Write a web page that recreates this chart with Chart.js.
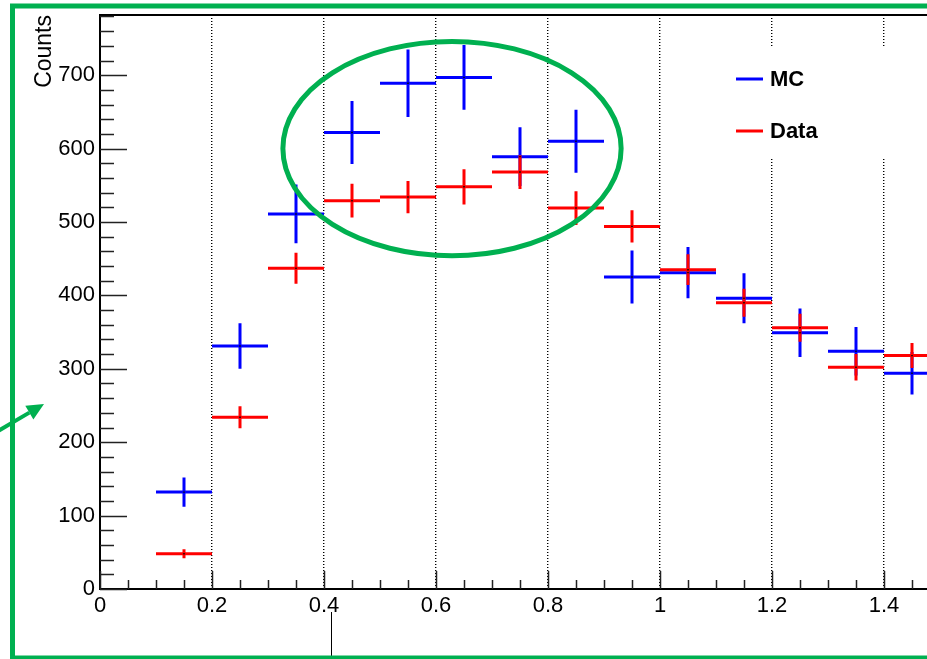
<!DOCTYPE html>
<html>
<head>
<meta charset="utf-8">
<script src="https://cdn.jsdelivr.net/npm/chart.js@4.4.1/dist/chart.umd.min.js"></script>
<style>
  html, body { margin: 0; padding: 0; background: #fff; overflow: hidden; }
  canvas { display: block; }
</style>
</head>
<body>
<canvas id="myChart" width="960" height="659"></canvas>
<script>
// histogram bins (x = bin centre, all bins 0.1 wide)
const binCenters = [0.15, 0.25, 0.35, 0.45, 0.55, 0.65, 0.75, 0.85, 0.95, 1.05, 1.15, 1.25, 1.35, 1.45];
const binWidth = 0.1;

const mcCounts = [132, 331, 511, 622, 689, 697, 589, 610, 425, 431, 396, 349, 324, 294];
const mcErrors = [20, 31, 40, 43, 46, 44, 40, 43, 36, 35, 34, 33, 33, 29];

const dataCounts = [48, 234, 437, 529, 534, 548, 568, 519, 494, 435, 390, 356, 302, 318];
const dataErrors = [6, 15, 21, 23, 22, 24, 23, 23, 22, 21, 19, 19, 18, 17];

const xTickValues = [0, 0.2, 0.4, 0.6, 0.8, 1, 1.2, 1.4];
const xTickLabels = ['0', '0.2', '0.4', '0.6', '0.8', '1', '1.2', '1.4'];
const yTickValues = [0, 100, 200, 300, 400, 500, 600, 700];
const yTickLabels = ['0', '100', '200', '300', '400', '500', '600', '700'];

const seriesNames = ['MC', 'Data'];
const seriesColors = ['#0000ff', '#ff0000'];

const FONT = '"Liberation Sans", Arial, Helvetica, sans-serif';
const GREEN = '#00b050';

// each bin becomes a horizontal bar (bin width) plus a vertical error bar
function crossPoints(counts, errors) {
  const pts = [];
  binCenters.forEach((c, i) => {
    const v = counts[i];
    const e = errors[i];
    pts.push({ x: c - binWidth / 2, y: v }, { x: c + binWidth / 2, y: v }, { x: c, y: null });
    pts.push({ x: c, y: v - e }, { x: c, y: v + e }, { x: c, y: null });
  });
  return pts;
}

function crossDataset(label, counts, errors, color, order) {
  return {
    label: label,
    data: crossPoints(counts, errors),
    showLine: true,
    spanGaps: false,
    borderColor: color,
    borderWidth: 3,
    pointRadius: 0,
    tension: 0,
    order: order,
  };
}

const centerDots = binCenters.map((c, i) => ({ x: c, y: mcCounts[i] }))
  .concat(binCenters.map((c, i) => ({ x: c, y: dataCounts[i] })));

// inward ticks, frame top, axis title, legend and the green markup
const decorPlugin = {
  id: 'decor',
  afterDatasetsDraw(chart) {
    const ctx = chart.ctx;
    const area = chart.chartArea;
    ctx.save();
    ctx.fillStyle = '#fff';
    ctx.fillRect(700, 48, area.right - 700, 111);

    ctx.font = 'bold 22px ' + FONT;
    ctx.textBaseline = 'middle';
    ctx.textAlign = 'left';
    seriesNames.forEach((name, i) => {
      const y = 79 + i * 52;
      ctx.strokeStyle = seriesColors[i];
      ctx.lineWidth = 3;
      ctx.beginPath();
      ctx.moveTo(736, y);
      ctx.lineTo(763, y);
      ctx.stroke();
      ctx.fillStyle = '#000';
      ctx.fillText(name, 770, y + 1);
    });
    ctx.restore();
  },
  afterDraw(chart) {
    const ctx = chart.ctx;
    const area = chart.chartArea;
    const xs = chart.scales.x;
    const ys = chart.scales.y;
    ctx.save();

    // top of the frame
    ctx.strokeStyle = '#000';
    ctx.lineWidth = 2;
    ctx.beginPath();
    ctx.moveTo(area.left - 1, area.top);
    ctx.lineTo(area.right, area.top);
    ctx.stroke();

    // tick marks drawn inward, ROOT style
    ctx.lineWidth = 1.5;
    ctx.strokeStyle = '#222';
    ctx.beginPath();
    for (let i = 0; i * 20 <= ys.max; i++) {
      const y = Math.round(ys.getPixelForValue(i * 20)) + 0.5;
      const len = i % 5 === 0 ? 27 : 14;
      ctx.moveTo(area.left, y);
      ctx.lineTo(area.left + len, y);
    }
    for (let i = 0; i * 0.05 <= xs.max + 1e-9; i++) {
      const x = Math.round(xs.getPixelForValue(i * 0.05)) + 0.5;
      const len = i % 4 === 0 ? 18 : 9;
      ctx.moveTo(x, area.bottom);
      ctx.lineTo(x, area.bottom - len);
    }
    ctx.stroke();

    // y axis title
    ctx.fillStyle = '#000';
    ctx.font = '23px ' + FONT;
    ctx.textAlign = 'right';
    ctx.textBaseline = 'alphabetic';
    ctx.translate(51, area.top);
    ctx.rotate(-Math.PI / 2);
    ctx.fillText('Counts', 0, 0);
    ctx.setTransform(1, 0, 0, 1, 0, 0);

    // marker line under the axis
    ctx.strokeStyle = '#000';
    ctx.lineWidth = 1;
    ctx.beginPath();
    ctx.moveTo(331.5, 612);
    ctx.lineTo(331.5, 659);
    ctx.stroke();

    // green highlight ellipse around the peak region
    const cx = xs.getPixelForValue(0.6286);
    const cy = ys.getPixelForValue(600);
    const rx = xs.getPixelForValue(0.6286 + 0.302) - cx;
    const ry = cy - ys.getPixelForValue(600 + 146);
    ctx.strokeStyle = GREEN;
    ctx.lineWidth = 5;
    ctx.beginPath();
    ctx.ellipse(cx, cy, rx, ry, 0, 0, Math.PI * 2);
    ctx.stroke();

    // green outline box
    ctx.strokeRect(12.5, 6, 960, 652);

    // green arrow from the left edge
    const tip = { x: 44, y: 404 };
    const ang = Math.atan2(404 - 431, 44 - (-2));
    const headLen = 17;
    const headHalf = 8;
    const bx = tip.x - headLen * Math.cos(ang);
    const by = tip.y - headLen * Math.sin(ang);
    ctx.lineWidth = 4;
    ctx.beginPath();
    ctx.moveTo(-2, 431);
    ctx.lineTo(bx, by);
    ctx.stroke();
    ctx.fillStyle = GREEN;
    ctx.beginPath();
    ctx.moveTo(tip.x, tip.y);
    ctx.lineTo(bx + headHalf * Math.sin(ang), by - headHalf * Math.cos(ang));
    ctx.lineTo(bx - headHalf * Math.sin(ang), by + headHalf * Math.cos(ang));
    ctx.closePath();
    ctx.fill();

    ctx.restore();
  },
};

const ctx = document.getElementById('myChart').getContext('2d');

new Chart(ctx, {
  type: 'scatter',
  data: {
    datasets: [
      {
        label: 'centres',
        data: centerDots,
        pointRadius: 1,
        pointStyle: 'rect',
        pointBackgroundColor: '#000',
        pointBorderWidth: 0,
        showLine: false,
        order: 0,
      },
      crossDataset(seriesNames[1], dataCounts, dataErrors, seriesColors[1], 1),
      crossDataset(seriesNames[0], mcCounts, mcErrors, seriesColors[0], 2),
    ],
  },
  options: {
    responsive: false,
    animation: false,
    layout: { padding: { left: 0, top: 15, right: 20, bottom: 30 } },
    plugins: {
      legend: { display: false },
      tooltip: { enabled: false },
    },
    scales: {
      x: {
        type: 'linear',
        min: 0,
        max: 1.5,
        afterBuildTicks: (s) => { s.ticks = xTickValues.map((v) => ({ value: v })); },
        afterFit: (s) => {
          s.height = 40;
          s.paddingLeft = 0;
          s.paddingRight = 0;
        },
        ticks: {
          autoSkip: false,
          maxRotation: 0,
          padding: 4,
          color: '#000',
          font: { family: FONT, size: 22 },
          callback: (v) => xTickLabels[xTickValues.indexOf(v)] ?? '',
        },
        grid: {
          color: (c) => (c.tick && c.tick.value === 0 ? 'rgba(0,0,0,0)' : '#000'),
          lineWidth: 1.4,
          drawTicks: false,
        },
        border: { color: '#000', width: 2, dash: [1, 2] },
      },
      y: {
        type: 'linear',
        min: 0,
        max: 782,
        afterBuildTicks: (s) => { s.ticks = yTickValues.map((v) => ({ value: v })); },
        afterFit: (s) => {
          s.width = 100;
          s.paddingTop = 0;
          s.paddingBottom = 0;
        },
        ticks: {
          padding: 5,
          color: '#000',
          font: { family: FONT, size: 22 },
          callback: (v) => yTickLabels[yTickValues.indexOf(v)] ?? '',
        },
        grid: { display: false, drawTicks: false },
        border: { color: '#000', width: 2 },
      },
    },
  },
  plugins: [decorPlugin],
});
</script>
</body>
</html>
